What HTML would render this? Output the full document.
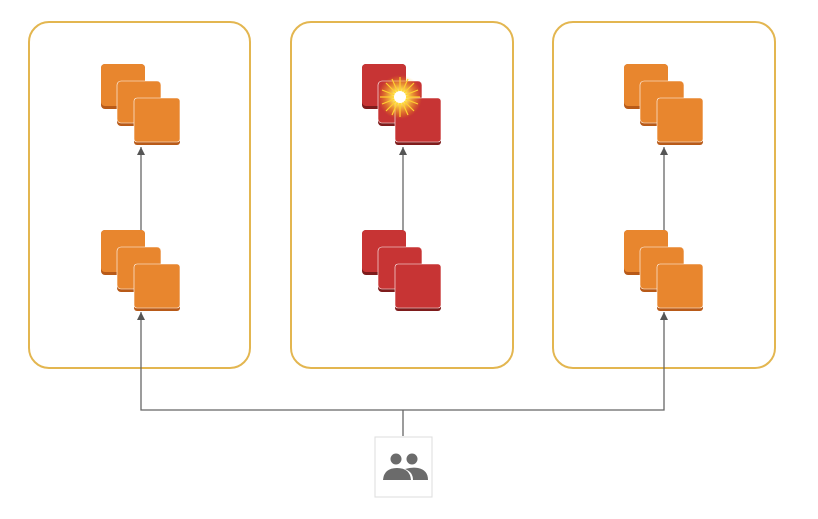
<!DOCTYPE html>
<html><head><style>body{margin:0;background:#fff}</style></head><body>
<svg width="818" height="514" xmlns="http://www.w3.org/2000/svg">
<defs>
<marker id="ar" markerWidth="8" markerHeight="8" refX="8" refY="4" orient="auto-start-reverse" markerUnits="userSpaceOnUse"><path d="M0,0 L8,4 L0,8 Z" fill="#555"/></marker>
<radialGradient id="bl"><stop offset="0" stop-color="#fff"/><stop offset="0.3" stop-color="#ffe860"/><stop offset="1" stop-color="#ffb000" stop-opacity="0"/></radialGradient>
</defs>
<g fill="none" stroke="#e3b650" stroke-width="2">
<rect x="29" y="22" width="221" height="346" rx="20"/>
<rect x="291" y="22" width="222" height="346" rx="20"/>
<rect x="553" y="22" width="222" height="346" rx="20"/>
</g>
<g>
<g transform="translate(101,64)"><rect width="44" height="45" rx="4" fill="#b85a18"/><rect width="44" height="42" rx="4" fill="#e8862e"/><rect x="16" y="17" width="44" height="45" rx="4" fill="#b85a18"/><rect x="16" y="17" width="44" height="42" rx="4" fill="#e8862e" stroke="#fff" stroke-width="0.6"/><rect x="33" y="34" width="46" height="47" rx="3" fill="#b85a18"/><rect x="33" y="34" width="46" height="44" rx="3" fill="#e8862e" stroke="#fff" stroke-width="0.6"/></g>
<g transform="translate(101,230)"><rect width="44" height="45" rx="4" fill="#b85a18"/><rect width="44" height="42" rx="4" fill="#e8862e"/><rect x="16" y="17" width="44" height="45" rx="4" fill="#b85a18"/><rect x="16" y="17" width="44" height="42" rx="4" fill="#e8862e" stroke="#fff" stroke-width="0.6"/><rect x="33" y="34" width="46" height="47" rx="3" fill="#b85a18"/><rect x="33" y="34" width="46" height="44" rx="3" fill="#e8862e" stroke="#fff" stroke-width="0.6"/></g>
<g transform="translate(624,64)"><rect width="44" height="45" rx="4" fill="#b85a18"/><rect width="44" height="42" rx="4" fill="#e8862e"/><rect x="16" y="17" width="44" height="45" rx="4" fill="#b85a18"/><rect x="16" y="17" width="44" height="42" rx="4" fill="#e8862e" stroke="#fff" stroke-width="0.6"/><rect x="33" y="34" width="46" height="47" rx="3" fill="#b85a18"/><rect x="33" y="34" width="46" height="44" rx="3" fill="#e8862e" stroke="#fff" stroke-width="0.6"/></g>
<g transform="translate(624,230)"><rect width="44" height="45" rx="4" fill="#b85a18"/><rect width="44" height="42" rx="4" fill="#e8862e"/><rect x="16" y="17" width="44" height="45" rx="4" fill="#b85a18"/><rect x="16" y="17" width="44" height="42" rx="4" fill="#e8862e" stroke="#fff" stroke-width="0.6"/><rect x="33" y="34" width="46" height="47" rx="3" fill="#b85a18"/><rect x="33" y="34" width="46" height="44" rx="3" fill="#e8862e" stroke="#fff" stroke-width="0.6"/></g>
<g transform="translate(362,64)"><rect width="44" height="45" rx="4" fill="#7e1c1c"/><rect width="44" height="42" rx="4" fill="#c73434"/><rect x="16" y="17" width="44" height="45" rx="4" fill="#7e1c1c"/><rect x="16" y="17" width="44" height="42" rx="4" fill="#c73434" stroke="#fff" stroke-width="0.6"/><rect x="33" y="34" width="46" height="47" rx="3" fill="#7e1c1c"/><rect x="33" y="34" width="46" height="44" rx="3" fill="#c73434" stroke="#fff" stroke-width="0.6"/><circle cx="38" cy="33" r="22" fill="url(#bl)"/><g stroke="#ffd030" stroke-width="1.2"><path d="M38 13 L38 53 M18 33 L58 33 M24 19 L52 47 M52 19 L24 47 M30 15 L46 51 M46 15 L30 51 M20 26 L56 40 M20 40 L56 26"/></g><circle cx="38" cy="33" r="6" fill="#fff"/></g>
<g transform="translate(362,230)"><rect width="44" height="45" rx="4" fill="#7e1c1c"/><rect width="44" height="42" rx="4" fill="#c73434"/><rect x="16" y="17" width="44" height="45" rx="4" fill="#7e1c1c"/><rect x="16" y="17" width="44" height="42" rx="4" fill="#c73434" stroke="#fff" stroke-width="0.6"/><rect x="33" y="34" width="46" height="47" rx="3" fill="#7e1c1c"/><rect x="33" y="34" width="46" height="44" rx="3" fill="#c73434" stroke="#fff" stroke-width="0.6"/></g>
</g>
<g stroke="#666" stroke-width="1.3" fill="none">
<line x1="141" y1="230" x2="141" y2="147" marker-end="url(#ar)"/>
<line x1="403" y1="230" x2="403" y2="147" marker-end="url(#ar)"/>
<line x1="664" y1="230" x2="664" y2="147" marker-end="url(#ar)"/>
<path d="M141 312 L141 410 L664 410 L664 312" marker-start="url(#ar)" marker-end="url(#ar)"/>
<line x1="403" y1="410" x2="403" y2="436"/>
</g>
<rect x="375" y="437" width="57" height="60" fill="#fff" stroke="#ddd" stroke-width="1"/>
<g fill="#6b6b6b">
<circle cx="396" cy="459" r="5.5"/><circle cx="412" cy="459" r="5.5"/>
<path d="M383 480 Q384 468 397 468 Q410 468 411 480 Z"/>
<path d="M405 469 Q412 467 418 468 Q428 470 428 480 L413 480 Q413 472 405 469 Z"/>
</g>
</svg>
</body></html>
